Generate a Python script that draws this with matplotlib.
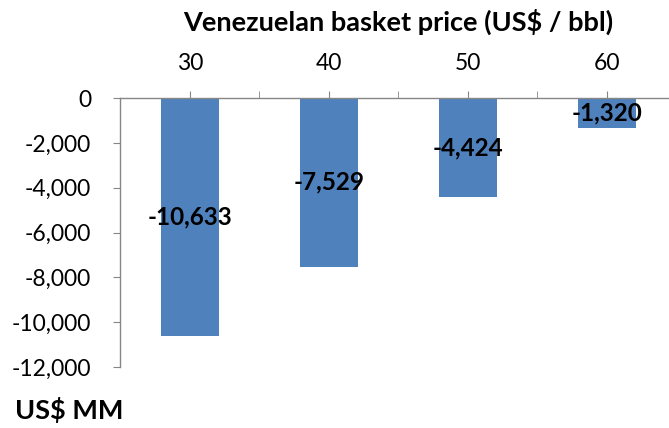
import numpy as np
import matplotlib.pyplot as plt

# basket price scenarios and the resulting gap (US$ MM)
prices = ['30', '40', '50', '60']
values = [-10633, -7529, -4424, -1320]
bar_labels = ['-10,633', '-7,529', '-4,424', '-1,320']
yticks = [0, -2000, -4000, -6000, -8000, -10000, -12000]
ytick_labels = ['0', '-2,000', '-4,000', '-6,000', '-8,000', '-10,000', '-12,000']

plt.rcParams['font.family'] = ['Lato', 'DejaVu Sans']

fig = plt.figure(figsize=(6.69, 4.28), dpi=100)
ax = fig.add_axes([0.18, 0.1425, 0.82, 0.6285])

x = np.arange(len(prices))
bars = ax.bar(x, values, width=0.42, color='#4F81BD', zorder=2)

# data labels centred in the bars
for xi, v, lab in zip(x, values, bar_labels):
    ax.text(xi, v / 2, lab, ha='center', va='center', fontsize=17.5,
            fontweight='bold', color='black', zorder=3)

ax.set_xlim(-0.5, 3.446)
ax.set_ylim(-12000, 0)

# category axis sits on top
ax.xaxis.tick_top()
ax.set_xticks(x)
ax.set_xticklabels(prices, fontsize=16.5)
ax.set_xticks([0.5, 1.5, 2.5], minor=True)
ax.tick_params(axis='x', which='both', direction='out', length=5,
               color='#868686', pad=12)

ax.set_yticks(yticks)
ax.set_yticklabels(ytick_labels, fontsize=16.5)
ax.tick_params(axis='y', direction='out', length=5, color='#868686', pad=16)

for side in ['right', 'bottom']:
    ax.spines[side].set_visible(False)
for side in ['left', 'top']:
    ax.spines[side].set_color('#868686')
    ax.spines[side].set_linewidth(1.0)

fig.text(0.595, 0.949, 'Venezuelan basket price (US$ / bbl)', ha='center',
         va='center', fontsize=19.5, fontweight='bold')
fig.text(0.022, 0.042, 'US$ MM', ha='left', va='center', fontsize=19.5,
         fontweight='bold')

fig.savefig('out.png', dpi=100)
